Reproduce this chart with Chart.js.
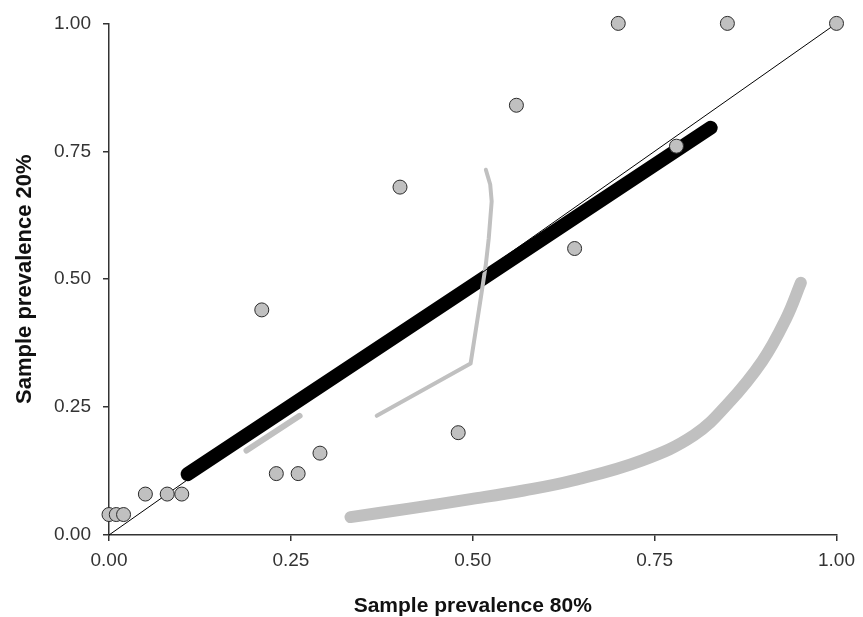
<!DOCTYPE html>
<html>
<head>
<meta charset="utf-8">
<script src="https://cdn.jsdelivr.net/npm/chart.js@4/dist/chart.umd.min.js"></script>
<style>
  html, body { margin: 0; padding: 0; background: #fff; }
  #wrap { width: 863px; height: 617px; }
</style>
</head>
<body>
<div id="wrap"><canvas id="prevChart" width="863" height="617"></canvas></div>
<script>
// observed points
const obsX = [0.00, 0.01, 0.02, 0.05, 0.08, 0.10, 0.23, 0.26, 0.29, 0.21, 0.40, 0.48, 0.56, 0.64, 0.70, 0.78, 0.85, 1.00];
const obsY = [0.04, 0.04, 0.04, 0.08, 0.08, 0.08, 0.12, 0.12, 0.16, 0.44, 0.68, 0.20, 0.84, 0.56, 1.00, 0.76, 1.00, 1.00];

// identity line
const diagX = [0, 1];
const diagY = [0, 1];

// thick black fit
const fitX = [0.108, 0.827];
const fitY = [0.119, 0.796];

// short grey segment
const shortX = [0.189, 0.262];
const shortY = [0.165, 0.233];

// bent grey line
const bentX = [0.368, 0.497, 0.504, 0.511, 0.518, 0.522, 0.526, 0.524, 0.518];
const bentY = [0.233, 0.335, 0.399, 0.463, 0.529, 0.580, 0.652, 0.685, 0.714];

// thick grey curve
const curveX = [0.332, 0.41, 0.497, 0.57, 0.639, 0.733, 0.804, 0.851, 0.898, 0.931, 0.951];
const curveY = [0.035, 0.051, 0.070, 0.087, 0.107, 0.146, 0.195, 0.257, 0.340, 0.424, 0.493];

const tickValues = [0, 0.25, 0.5, 0.75, 1];

function pts(xs, ys) {
  return xs.map(function(x, i) { return { x: x, y: ys[i] }; });
}

function lineSet(xs, ys, color, width, extra) {
  return Object.assign({
    data: pts(xs, ys),
    showLine: true,
    borderColor: color,
    borderWidth: width,
    borderCapStyle: 'round',
    borderJoinStyle: 'round',
    tension: 0,
    pointRadius: 0,
    pointHoverRadius: 0,
    clip: false
  }, extra || {});
}

const tickFont = { family: '"Liberation Sans", Arial, sans-serif', size: 19 };

const ctx = document.getElementById('prevChart').getContext('2d');
new Chart(ctx, {
  type: 'scatter',
  data: {
    datasets: [
      {
        data: pts(obsX, obsY),
        backgroundColor: '#c0c0c0',
        borderColor: '#2a2a2a',
        borderWidth: 1,
        pointRadius: 7,
        pointHoverRadius: 7,
        clip: false
      },
      lineSet(diagX, diagY, '#000000', 1),
      lineSet(shortX, shortY, '#c0c0c0', 6),
      lineSet(bentX, bentY, '#c0c0c0', 4),
      lineSet(fitX, fitY, '#000000', 14),
      lineSet(curveX, curveY, '#c0c0c0', 12, { tension: 0.4 })
    ]
  },
  options: {
    responsive: false,
    devicePixelRatio: 1,
    animation: false,
    layout: { padding: { left: 0, right: 24, top: 21, bottom: 0 } },
    plugins: {
      legend: { display: false },
      tooltip: { enabled: false }
    },
    scales: {
      x: {
        type: 'linear',
        min: 0,
        max: 1,
        afterBuildTicks: function(scale) {
          scale.ticks = tickValues.map(function(v) { return { value: v }; });
        },
        afterFit: function(scale) { scale.height = 82; },
        ticks: {
          color: '#333333',
          font: tickFont,
          padding: 8,
          maxRotation: 0,
          callback: function(v) { return Number(v).toFixed(2); }
        },
        grid: {
          drawOnChartArea: false,
          drawTicks: true,
          tickLength: 6,
          color: '#333333',
          lineWidth: 1.5
        },
        border: { display: true, color: '#333333', width: 1.5 },
        title: {
          display: true,
          text: 'Sample prevalence 80%',
          color: '#111111',
          font: { family: '"Liberation Sans", Arial, sans-serif', size: 21, weight: 'bold', lineHeight: 1 },
          padding: { top: 0, bottom: 0 }
        }
      },
      y: {
        type: 'linear',
        min: 0,
        max: 1,
        afterBuildTicks: function(scale) {
          scale.ticks = tickValues.map(function(v) { return { value: v }; });
        },
        afterFit: function(scale) { scale.width = 109; },
        ticks: {
          color: '#333333',
          font: tickFont,
          padding: 12,
          callback: function(v) { return Number(v).toFixed(2); }
        },
        grid: {
          drawOnChartArea: false,
          drawTicks: true,
          tickLength: 6,
          color: '#333333',
          lineWidth: 1.5
        },
        border: { display: true, color: '#333333', width: 1.5 },
        title: {
          display: true,
          text: 'Sample prevalence 20%',
          color: '#111111',
          font: { family: '"Liberation Sans", Arial, sans-serif', size: 22, weight: 'bold', lineHeight: 1 },
          padding: { top: 14, bottom: 0 }
        }
      }
    }
  }
});
</script>
</body>
</html>
